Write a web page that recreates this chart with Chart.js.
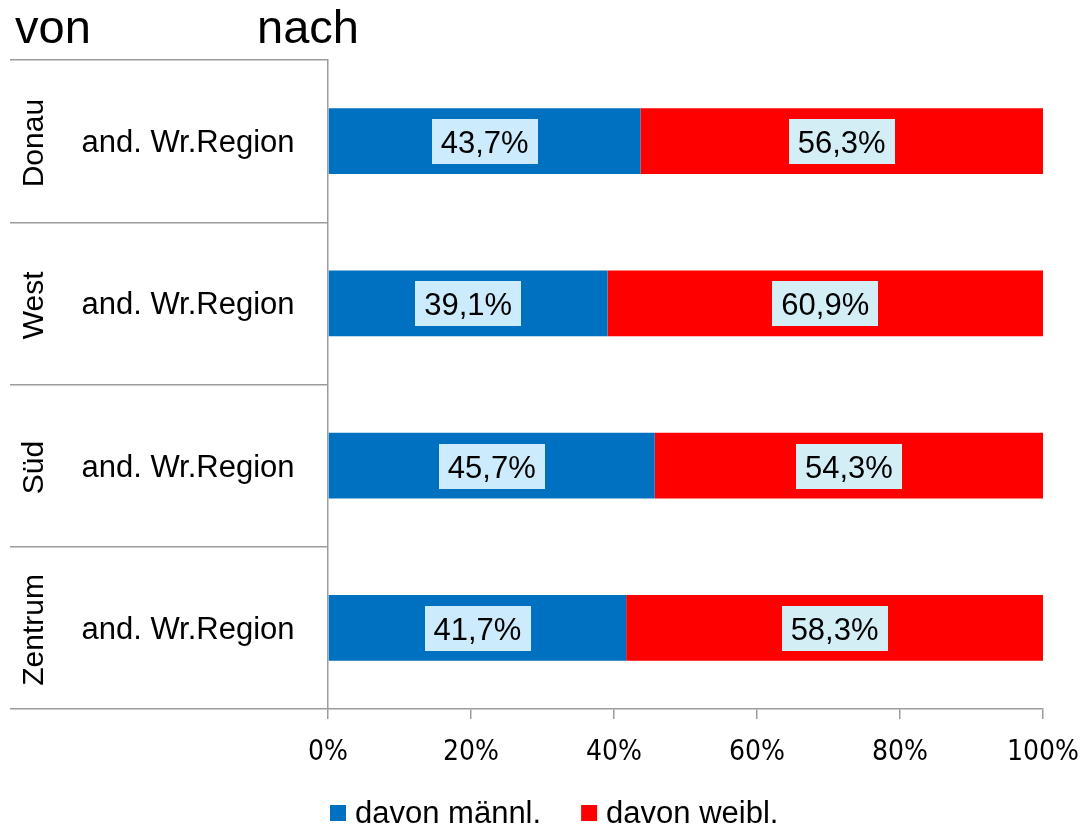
<!DOCTYPE html>
<html>
<head>
<meta charset="utf-8">
<script src="https://cdn.jsdelivr.net/npm/chart.js@4/dist/chart.umd.min.js"></script>
<style>
  html, body { margin: 0; padding: 0; background: #ffffff; }
  #wrap { position: relative; width: 1081px; height: 828px; }
  canvas { display: block; }
</style>
</head>
<body>
<div id="wrap"><canvas id="c" width="1081" height="828"></canvas></div>
<script>
// ---- data ----
const categories = ['Donau', 'West', 'Süd', 'Zentrum'];
const innerLabels = ['and. Wr.Region', 'and. Wr.Region', 'and. Wr.Region', 'and. Wr.Region'];
const seriesNames = ['davon männl.', 'davon weibl.'];
const maleShare = [43.7, 39.1, 45.7, 41.7];
const femaleShare = [56.3, 60.9, 54.3, 58.3];
const xTickValues = [0, 20, 40, 60, 80, 100];
const headerLabels = ['von', 'nach'];

// ---- styles ----
const BLUE = '#0070C0';
const RED = '#FF0000';
const GRID = '#9c9c9c';
const SANS = '"Liberation Sans", Arial, Helvetica, sans-serif';
const NARROW = '"Liberation Sans Narrow", "DejaVu Sans Condensed", "Liberation Sans", sans-serif';

const fmt = v => v.toFixed(1).replace('.', ',') + '%';

const labelPlugin = {
  id: 'extras',
  afterDatasetsDraw(chart) {
    const ctx = chart.ctx;
    ctx.save();
    ctx.font = '31px ' + SANS;
    ctx.textAlign = 'center';
    ctx.textBaseline = 'alphabetic';
    const boxColors = ['#CCEBFD', '#D4EEF6'];
    chart.data.datasets.forEach((ds, di) => {
      const meta = chart.getDatasetMeta(di);
      meta.data.forEach((el, i) => {
        const cx = (el.x + el.base) / 2;
        const cy = el.y;
        const txt = fmt(ds.data[i]);
        const w = ctx.measureText(txt).width + 18;
        const h = 45;
        ctx.fillStyle = boxColors[di];
        ctx.fillRect(Math.round(cx - w / 2), Math.round(cy - h / 2 + 0.5), Math.round(w), h);
        ctx.fillStyle = '#000000';
        ctx.fillText(txt, cx, cy + 12);
      });
    });
    ctx.restore();
  },
  afterDraw(chart) {
    const ctx = chart.ctx;
    const ys = chart.scales.y;
    ctx.save();
    ctx.fillStyle = '#000000';
    // multi-level category labels
    categories.forEach((cat, i) => {
      const y = ys.getPixelForValue(i);
      ctx.font = '31px ' + SANS;
      ctx.textAlign = 'center';
      ctx.textBaseline = 'alphabetic';
      ctx.fillText(innerLabels[i], 188, y + 11);
      ctx.save();
      ctx.translate(43, y + 2);
      ctx.rotate(-Math.PI / 2);
      ctx.font = '30px ' + SANS;
      ctx.fillText(cat, 0, 0);
      ctx.restore();
    });
    // header
    ctx.font = '47px ' + SANS;
    ctx.textAlign = 'left';
    ctx.textBaseline = 'alphabetic';
    ctx.fillText(headerLabels[0], 15, 43);
    ctx.fillText(headerLabels[1], 257, 43);
    // legend
    ctx.font = '31px ' + SANS;
    let x = 330;
    chart.data.datasets.forEach(ds => {
      ctx.fillStyle = ds.backgroundColor;
      ctx.fillRect(x, 805, 16, 16);
      x += 16 + 9;
      ctx.fillStyle = '#000000';
      ctx.fillText(ds.label, x, 823);
      x += ctx.measureText(ds.label).width + 40;
    });
    ctx.restore();
  }
};

new Chart(document.getElementById('c'), {
  type: 'bar',
  data: {
    labels: categories,
    datasets: [
      { label: seriesNames[0], data: maleShare, backgroundColor: BLUE, borderWidth: 0,
        barPercentage: 0.405, categoryPercentage: 1.0 },
      { label: seriesNames[1], data: femaleShare, backgroundColor: RED, borderWidth: 0,
        barPercentage: 0.405, categoryPercentage: 1.0 }
    ]
  },
  options: {
    indexAxis: 'y',
    responsive: false,
    animation: false,
    devicePixelRatio: 1,
    layout: { padding: { top: 60, left: 10, right: 38, bottom: 59 } },
    plugins: { legend: { display: false }, tooltip: { enabled: false } },
    scales: {
      x: {
        stacked: true,
        min: 0, max: 100,
        afterBuildTicks: s => { s.ticks = xTickValues.map(v => ({ value: v })); },
        afterFit: s => { s.height = 60; s.paddingLeft = 0; s.paddingRight = 0; },
        ticks: {
          callback: v => v + '%',
          color: '#000000',
          font: { family: NARROW, size: 28 },
          padding: 17,
          maxRotation: 0,
          autoSkip: false
        },
        grid: { drawOnChartArea: false, drawTicks: true, tickLength: 10, color: GRID, lineWidth: 1.5 },
        border: { display: true, color: GRID, width: 1.5 }
      },
      y: {
        stacked: true,
        afterFit: s => { s.width = 318; },
        ticks: { display: false },
        grid: { offset: true, drawOnChartArea: false, drawTicks: true, tickLength: 318, color: GRID, lineWidth: 1.5 },
        border: { display: true, color: GRID, width: 1.5 }
      }
    }
  },
  plugins: [labelPlugin]
});
</script>
</body>
</html>
